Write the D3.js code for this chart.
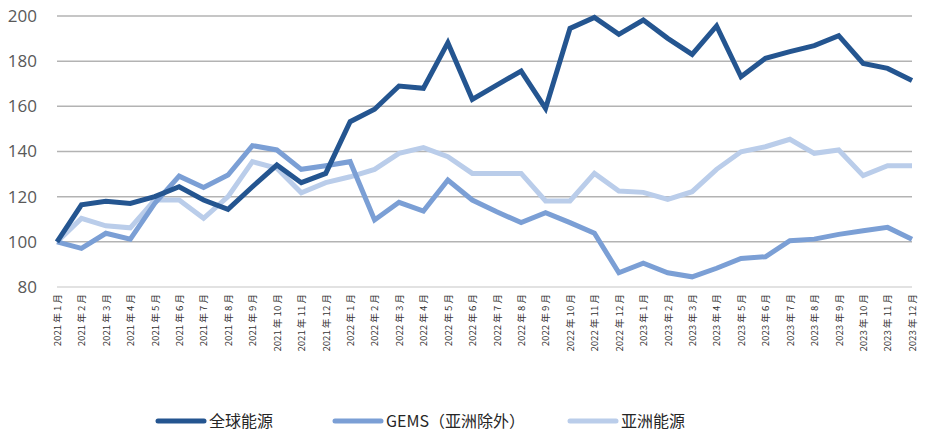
<!DOCTYPE html>
<html>
<head>
<meta charset="utf-8">
<script src="https://cdn.jsdelivr.net/npm/d3@7"></script>
<style>
  body { margin: 0; background: #fff; }
</style>
</head>
<body>
<div id="container"></div>
<script>
  // months 2021-01 .. 2023-12
  const months = [];
  for (const y of [2021, 2022, 2023]) {
    for (let m = 1; m <= 12; m++) months.push(y + " 年 " + m + " 月");
  }

  const seriesNames = ["全球能源", "GEMS（亚洲除外）", "亚洲能源"];
  const seriesColors = ["#245590", "#7b9fd5", "#bacdea"];

  const globalEnergy = [100, 116.4, 118, 117, 120, 124.4, 118.5, 114.4, 124.4, 134, 126.2, 130.3,
    153.2, 158.7, 169, 168, 188.2, 163.1, 169.4, 175.6, 159.1, 194.5, 199.4, 191.9,
    198.2, 190.1, 183, 195.6, 173.1, 181.3, 184.2, 186.9, 191.3, 179, 176.8, 171.4];
  const gemsExAsia = [100, 97.1, 103.8, 101.2, 117, 129.1, 124.1, 129.6, 142.6, 140.7, 132.1, 133.7,
    135.5, 109.7, 117.5, 113.6, 127.4, 118.5, 113.3, 108.5, 112.9, 108.5, 103.8, 86.3,
    90.5, 86.3, 84.5, 88.3, 92.6, 93.4, 100.5, 101.2, 103.3, 104.9, 106.4, 101.1];
  const asiaEnergy = [100, 110.4, 107.1, 106.2, 118.5, 118.5, 110.4, 120, 135.5, 132.6, 121.7, 126.2,
    128.8, 132.1, 139.2, 141.7, 137.7, 130.3, 130.3, 130.3, 118.1, 118.1, 130.3, 122.5,
    121.9, 118.8, 122.2, 132.1, 139.9, 142.1, 145.4, 139.2, 140.7, 129.3, 133.7, 133.7];

  const yTicks = [80, 100, 120, 140, 160, 180, 200];

  const width = 925, height = 432;
  const margin = { left: 57, right: 13, top: 16, bottom: 145 };

  const svg = d3.create("svg")
      .attr("width", width)
      .attr("height", height);

  const x = d3.scalePoint()
      .domain(months)
      .range([margin.left, width - margin.right]);

  const y = d3.scaleLinear()
      .domain([80, 200])
      .range([height - margin.bottom, margin.top]);

  // gridlines
  svg.append("g")
    .selectAll("line")
    .data(yTicks)
    .join("line")
      .attr("x1", margin.left)
      .attr("x2", width - margin.right)
      .attr("y1", d => y(d))
      .attr("y2", d => y(d))
      .attr("stroke", d => d === 80 ? "#d9d9d9" : "#b3b3b3")
      .attr("stroke-width", 1.5);

  // y axis labels
  const yAxis = svg.append("g")
      .attr("transform", `translate(${margin.left - 20},0)`)
      .call(d3.axisLeft(y).tickValues(yTicks).tickSize(0).tickPadding(0));
  yAxis.select(".domain").remove();
  yAxis.selectAll("text")
      .attr("font-family", "'Open Sans', sans-serif")
      .attr("font-size", 17)
      .attr("fill", "#595959");

  // x axis labels (vertical)
  const xAxis = svg.append("g")
      .attr("transform", `translate(0,${y(80) + 7})`)
      .call(d3.axisBottom(x).tickSize(0).tickPadding(0));
  xAxis.select(".domain").remove();
  xAxis.selectAll("text")
      .attr("font-family", "'Noto Sans CJK SC', sans-serif")
      .attr("font-size", 9.6)
      .attr("fill", "#333333")
      .attr("text-anchor", "end")
      .attr("dy", "0.35em")
      .attr("transform", "rotate(-90)");

  // lines
  const data = [globalEnergy, gemsExAsia, asiaEnergy];
  const line = d3.line()
      .x((d, i) => x(months[i]))
      .y(d => y(d));

  // draw light first, dark on top
  [2, 1, 0].forEach(k => {
    svg.append("path")
        .datum(data[k])
        .attr("d", line)
        .attr("fill", "none")
        .attr("stroke", seriesColors[k])
        .attr("stroke-width", 5)
        .attr("stroke-linejoin", "miter");
  });

  // legend
  const legendX = [158, 335, 570];
  const legend = svg.append("g");
  seriesNames.forEach((name, k) => {
    const g = legend.append("g").attr("transform", `translate(${legendX[k]},421)`);
    g.append("line")
        .attr("x1", 0).attr("x2", 46)
        .attr("stroke", seriesColors[k])
        .attr("stroke-width", 5)
        .attr("stroke-linecap", "round");
    g.append("text")
        .attr("x", 51)
        .attr("dy", "0.36em")
        .attr("font-family", "'Noto Sans CJK SC', sans-serif")
        .attr("font-size", 16)
        .attr("fill", "#262626")
        .text(name);
  });

  container.append(svg.node());
</script>
</body>
</html>
